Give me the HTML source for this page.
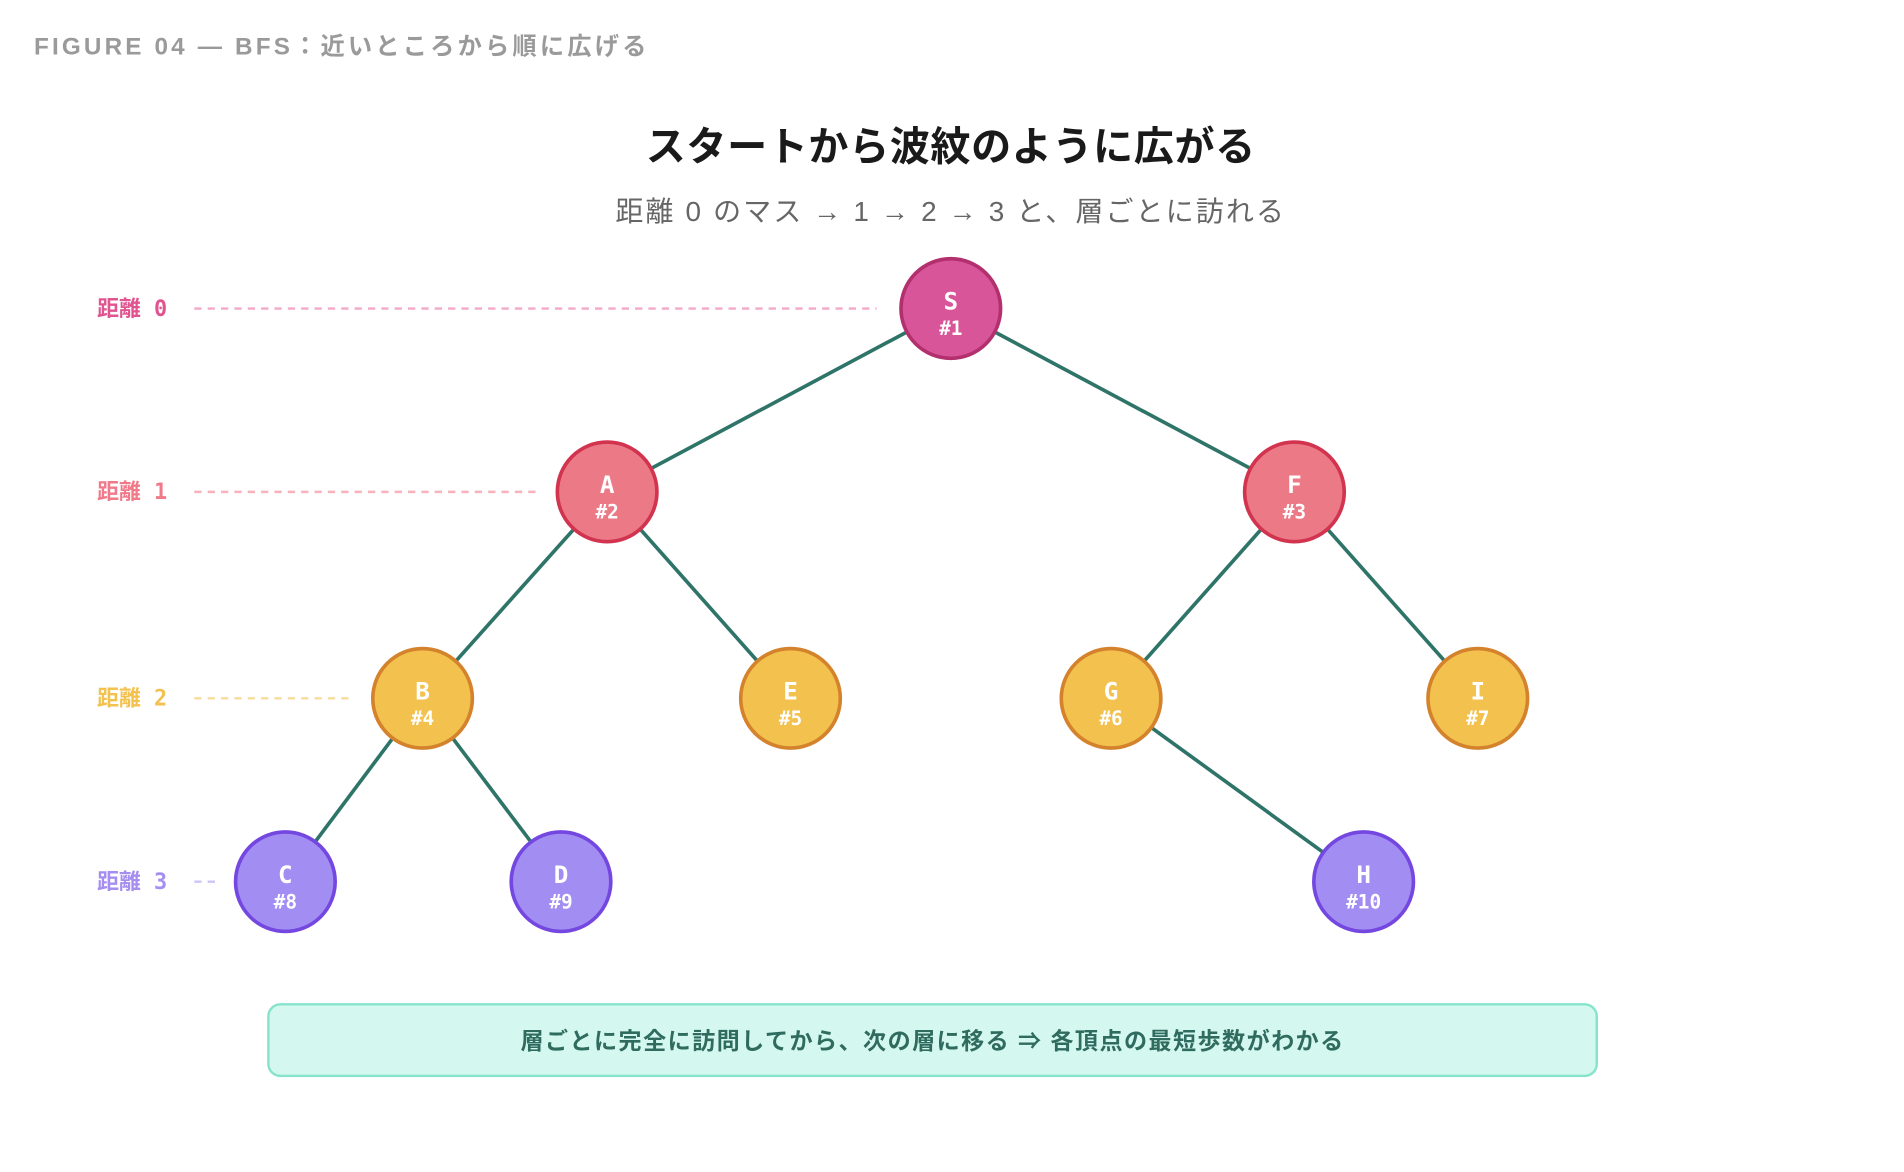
<!DOCTYPE html>
<html><head><meta charset="utf-8"><style>
html,body{margin:0;padding:0;background:#fff;width:1904px;height:1172px;overflow:hidden}
svg{display:block}
.jp{font-family:"Liberation Sans","Noto Sans CJK JP",sans-serif}
.mono{font-family:"DejaVu Sans Mono","Liberation Mono","Noto Sans CJK JP",monospace}
</style></head><body>
<svg width="1904" height="1172" viewBox="0 0 1568 965" xmlns="http://www.w3.org/2000/svg">
<rect width="1568" height="965" fill="#fff"/>
<text x="28" y="45" class="jp" font-size="20" fill="#9a9a9a" letter-spacing="2.6" font-weight="600">FIGURE 04 — BFS：近いところから順に広げる</text>
<text x="783" y="132" class="jp" font-size="33" font-weight="700" fill="#1a1a1a" text-anchor="middle" letter-spacing="0.5">スタートから波紋のように広がる</text>
<text x="783" y="182" class="jp" font-size="23" fill="#666" text-anchor="middle" letter-spacing="1.8">距離 0 のマス → 1 → 2 → 3 と、層ごとに訪れる</text>
<g class="mono" font-size="18" font-weight="700">
<text x="80" y="260" fill="#e0558f">距離 0</text>
<text x="80" y="411" fill="#f07a8a">距離 1</text>
<text x="80" y="581" fill="#f2c14e">距離 2</text>
<text x="80" y="732" fill="#a58ef0">距離 3</text>
</g>
<g stroke-width="2" stroke-dasharray="6 5">
<line x1="160" y1="254" x2="722" y2="254" stroke="#f3a9c8"/>
<line x1="160" y1="405" x2="445" y2="405" stroke="#f6b3bc"/>
<line x1="160" y1="575" x2="290" y2="575" stroke="#f7dc9c"/>
<line x1="160" y1="726" x2="182" y2="726" stroke="#cfc4f7"/>
</g>
<g stroke="#2f7468" stroke-width="3">
<line x1="783" y1="254" x2="500" y2="405"/><line x1="783" y1="254" x2="1066" y2="405"/>
<line x1="500" y1="405" x2="348" y2="575"/><line x1="500" y1="405" x2="651" y2="575"/>
<line x1="1066" y1="405" x2="915" y2="575"/><line x1="1066" y1="405" x2="1217" y2="575"/>
<line x1="348" y1="575" x2="235" y2="726"/><line x1="348" y1="575" x2="462" y2="726"/>
<line x1="915" y1="575" x2="1123" y2="726"/>
</g>
<g stroke-width="3">
<circle cx="783" cy="254" r="41" fill="#d9559a" stroke="#b3306f"/>
<circle cx="500" cy="405" r="41" fill="#ec7a86" stroke="#d2334f"/>
<circle cx="1066" cy="405" r="41" fill="#ec7a86" stroke="#d2334f"/>
<circle cx="348" cy="575" r="41" fill="#f2c14e" stroke="#d4832c"/>
<circle cx="651" cy="575" r="41" fill="#f2c14e" stroke="#d4832c"/>
<circle cx="915" cy="575" r="41" fill="#f2c14e" stroke="#d4832c"/>
<circle cx="1217" cy="575" r="41" fill="#f2c14e" stroke="#d4832c"/>
<circle cx="235" cy="726" r="41" fill="#a28ef2" stroke="#7447e0"/>
<circle cx="462" cy="726" r="41" fill="#a28ef2" stroke="#7447e0"/>
<circle cx="1123" cy="726" r="41" fill="#a28ef2" stroke="#7447e0"/>
</g>
<g class="mono" fill="#fff" font-weight="700" text-anchor="middle">
<g font-size="20">
<text x="783" y="255">S</text><text x="500" y="406">A</text><text x="1066" y="406">F</text>
<text x="348" y="576">B</text><text x="651" y="576">E</text><text x="915" y="576">G</text><text x="1217" y="576">I</text>
<text x="235" y="727">C</text><text x="462" y="727">D</text><text x="1123" y="727">H</text>
</g>
<g font-size="16">
<text x="783" y="276">#1</text><text x="500" y="427">#2</text><text x="1066" y="427">#3</text>
<text x="348" y="597">#4</text><text x="651" y="597">#5</text><text x="915" y="597">#6</text><text x="1217" y="597">#7</text>
<text x="235" y="748">#8</text><text x="462" y="748">#9</text><text x="1123" y="748">#10</text>
</g>
</g>
<rect x="221" y="827" width="1094" height="59" rx="10" fill="#d4f8ef" stroke="#86e3cc" stroke-width="2"/>
<text x="768" y="864" class="jp" font-size="19" font-weight="700" fill="#2f6b5f" text-anchor="middle" letter-spacing="1.2">層ごとに完全に訪問してから、次の層に移る ⇒ 各頂点の最短歩数がわかる</text>
</svg>
</body></html>
